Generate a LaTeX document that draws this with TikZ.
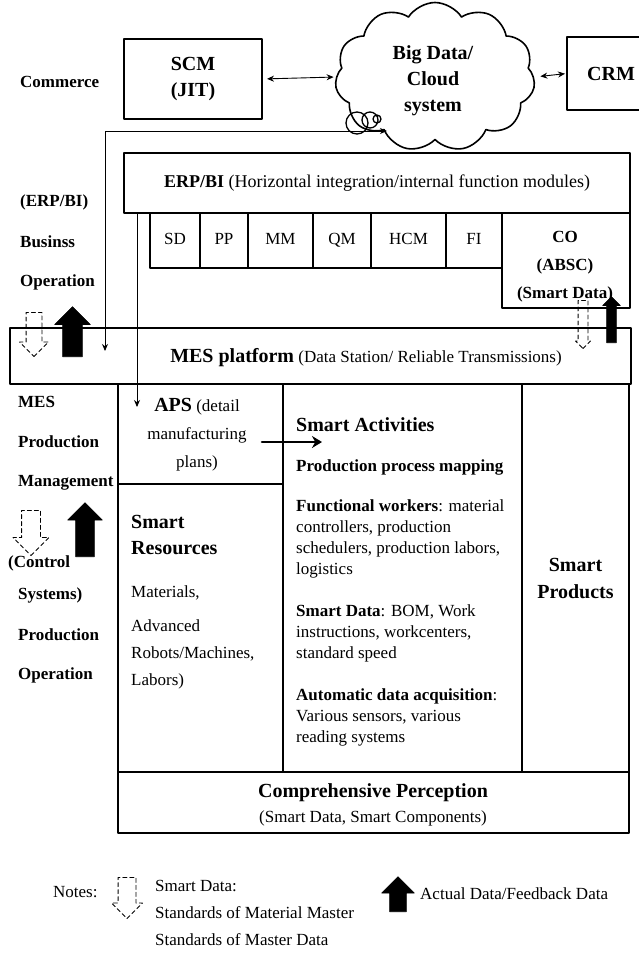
\documentclass[tikz,border=0pt]{standalone}
\usepackage{fontspec}
\setmainfont{Liberation Serif}
\usetikzlibrary{arrows.meta,positioning,shapes.symbols,shapes.arrows}
\newcommand\hfnt{\bfseries\fontsize{20}{26}\selectfont}
\newcommand\bfnt{\fontsize{17}{21}\selectfont}
\tikzset{
  box/.style={draw,rectangle,line width=1.1pt,inner sep=0pt,outer sep=0pt,align=center},
  modbox/.style={box,minimum height=55pt,font=\bfnt,text height=12pt,text depth=4pt},
  lbl/.style={anchor=west,inner sep=0pt,font=\bfseries\bfnt},
  txt/.style={inner sep=0pt,align=left,font=\bfnt},
  smartdown/.style n args={3}{single arrow,draw,line width=0.9pt,dash pattern=on 4pt off 3pt,
    rotate=-90,inner xsep=0pt,inner ysep=#2,anchor=tail,minimum height=#1,single arrow head extend=#3},
  actualup/.style n args={3}{single arrow,draw,fill=black,line width=0.6pt,
    rotate=90,inner xsep=0pt,inner ysep=#2,anchor=tail,minimum height=#1,single arrow head extend=#3},
  every picture/.style={line cap=round,line join=round}
}
\begin{document}
\begin{tikzpicture}[x=1pt,y=-1pt,>={Stealth[length=7pt,width=6pt]}]
  \useasboundingbox (0,0) rectangle (639,954);

  % commerce level
  \node[lbl] (commerce) at (20,82) {Commerce};
  \node[box,minimum width=138pt,minimum height=80pt,font=\hfnt] (scm) at (193,79) {SCM\\(JIT)};
  \node[cloud,draw,line width=1.6pt,cloud puffs=11,cloud puff arc=115,aspect=1.3,
    minimum width=200pt,minimum height=149pt,inner sep=0pt] (cloud) at (435,77) {};
  \node[inner sep=0pt,align=center,font=\hfnt] (cloudtxt) at (433,81) {Big Data/\\Cloud\\system};
  \node[box,minimum width=88pt,minimum height=73pt,font=\hfnt] (crm) at (611,73.5) {CRM};
  \draw[<->,line width=0.9pt,shorten <=5pt,shorten >=2pt] (scm.east) -- (cloud.west);
  \draw[<->,line width=0.9pt,shorten <=6pt,shorten >=2pt] (cloud.east) -- (crm.west);
  \draw[line width=1.3pt] (357,123) circle[radius=11pt] (370,120) circle[radius=8pt]
    (377,119) circle[radius=4pt];

  % ERP/BI level
  \node[lbl] (erplbl) at (20,202) {(ERP/BI)};
  \node[lbl] (businss) at (20,242) {Businss};
  \node[lbl] (operation) at (20,282) {Operation};
  \node[box,minimum width=506pt,minimum height=60pt,font=\fontsize{18}{22}\selectfont] (erp) at (377,183)
    {\textbf{ERP/BI} (Horizontal integration/internal function modules)};
  \node[modbox,minimum width=50pt,anchor=north west] (sd) at (150,213) {SD};
  \node[modbox,minimum width=48pt,right=0pt of sd] (pp) {PP};
  \node[modbox,minimum width=65pt,right=0pt of pp] (mm) {MM};
  \node[modbox,minimum width=58pt,right=0pt of mm] (qm) {QM};
  \node[modbox,minimum width=75pt,right=0pt of qm] (hcm) {HCM};
  \node[modbox,minimum width=56pt,right=0pt of hcm] (fi) {FI};
  \node[box,minimum width=128pt,minimum height=95pt,anchor=north west] (co) at (502,213) {};
  \node[inner sep=0pt,align=center,font=\bfseries\fontsize{17}{28}\selectfont] (cotxt) at (565,267)
    {CO\\(ABSC)\\(Smart Data)};

  % MES platform
  \node[box,minimum width=621pt,minimum height=56pt,anchor=north west] (mes) at (10,328) {};
  \node[inner sep=0pt,font=\bfnt] (mestxt) at (366,358)
    {{\hfnt MES platform} (Data Station/ Reliable Transmissions)};
  \node[smartdown={44pt}{7.5pt}{6.5pt}] (sd1) at (34,312) {};
  \node[actualup={50pt}{9.5pt}{8pt}] (ad1) at (72.5,357) {};
  \node[smartdown={48pt}{4.5pt}{2.5pt}] (sd3) at (583,300) {};
  \node[actualup={46pt}{4.5pt}{4pt}] (ad3) at (611.5,343) {};

  \coordinate (mestip) at (105,351);
  \coordinate (cloudtip) at (387,131);
  \coordinate (apstip) at (137,407);
  \draw[<->,line width=0.9pt] (mestip) |- (cloudtip);
  \draw[->,line width=0.9pt] (erp.south -| apstip) -- (apstip);

  % production level
  \node[lbl] (meslbl) at (18,402) {MES};
  \node[lbl] (prodmgmt) at (18,442) {Production};
  \node[lbl] (mgmt) at (18,483) {Management};
  \node[lbl] (control) at (8,563) {(Control};
  \node[lbl] (systems) at (18,595) {Systems)};
  \node[lbl] (prodop) at (18,635) {Production};
  \node[lbl] (oper) at (18,675) {Operation};
  \node[smartdown={45pt}{9pt}{8.5pt}] (sd2) at (31,510) {};
  \node[actualup={54pt}{9pt}{8pt}] (ad2) at (85,557) {};

  \node[box,minimum width=165pt,minimum height=100pt,anchor=north west] (aps) at (118,384) {};
  \node[inner sep=0pt,align=center,font=\fontsize{17}{28}\selectfont] (apstxt) at (197,435)
    {{\hfnt APS} (detail\\manufacturing\\plans)};
  \node[box,minimum width=165pt,minimum height=288pt,anchor=north west] (res) at (118,484) {};
  \node[txt,anchor=north west,font=\hfnt] (restitle) at (131,515) {Smart\\Resources};
  \node[txt,anchor=north west,font=\fontsize{17}{27}\selectfont] (resbody) at (131,585)
    {Materials,\\[7pt]Advanced\\Robots/Machines,\\Labors)};

  \node[box,minimum width=239pt,minimum height=388pt,anchor=north west] (act) at (283,384) {};
  \node[txt,anchor=west,font=\hfnt] (acttitle) at (296,425) {Smart Activities};
  \node[txt,anchor=west,font=\bfseries\bfnt] (actmap) at (296,467) {Production process mapping};
  \node[txt,anchor=north west] (actwork) at (296,499)
    {\textbf{Functional workers}: material\\controllers, production\\schedulers, production labors,\\logistics};
  \node[txt,anchor=north west] (actdata) at (296,604)
    {\textbf{Smart Data}: BOM, Work\\instructions, workcenters,\\standard speed};
  \node[txt,anchor=north west] (actauto) at (296,688)
    {\textbf{Automatic data acquisition}:\\Various sensors, various\\reading systems};

  \node[box,minimum width=107pt,minimum height=388pt,anchor=north west,
    font=\bfseries\fontsize{20}{27}\selectfont] (prod) at (522,384) {Smart\\Products};

  \coordinate (apsout) at (262,442);
  \coordinate (actin) at (322,442);
  \draw[line width=2.6pt,-{Stealth[length=10pt,width=12pt]}] (apsout) -- (actin);

  \node[box,minimum width=511pt,minimum height=61pt,anchor=north west] (perc) at (118,772) {};
  \node[inner sep=0pt,align=center,font=\fontsize{17}{25}\selectfont] (perctxt) at (373,805)
    {{\hfnt Comprehensive Perception}\\(Smart Data, Smart Components)};

  % notes
  \node[txt,anchor=west] (notes) at (53,892) {Notes:};
  \node[smartdown={41pt}{8.5pt}{6.5pt}] (sd4) at (127,877) {};
  \node[txt,anchor=north west,font=\fontsize{17}{27}\selectfont] (notesmart) at (155,880)
    {Smart Data:\\Standards of Material Master\\Standards of Master Data};
  \node[actualup={35pt}{8pt}{8pt}] (ad4) at (398,912) {};
  \node[txt,anchor=west] (noteactual) at (420,894) {Actual Data/Feedback Data};
\end{tikzpicture}
\end{document}
